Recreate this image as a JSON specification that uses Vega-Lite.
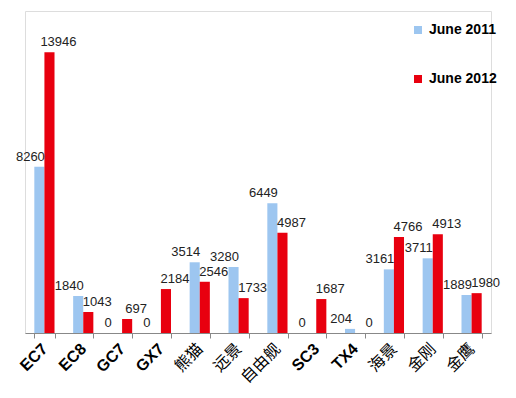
{
  "$schema": "https://vega.github.io/schema/vega-lite/v6.json",
  "width": 466,
  "height": 322,
  "autosize": {"type": "none"},
  "padding": {"left": 25, "top": 11, "right": 25, "bottom": 65},
  "background": "white",
  "data": {"values": [
    {"model": "EC7", "series": "June 2011", "sales": 8260},
    {"model": "EC7", "series": "June 2012", "sales": 13946},
    {"model": "EC8", "series": "June 2011", "sales": 1840},
    {"model": "EC8", "series": "June 2012", "sales": 1043},
    {"model": "GC7", "series": "June 2011", "sales": 0},
    {"model": "GC7", "series": "June 2012", "sales": 697},
    {"model": "GX7", "series": "June 2011", "sales": 0},
    {"model": "GX7", "series": "June 2012", "sales": 2184},
    {"model": "熊猫", "series": "June 2011", "sales": 3514},
    {"model": "熊猫", "series": "June 2012", "sales": 2546},
    {"model": "远景", "series": "June 2011", "sales": 3280},
    {"model": "远景", "series": "June 2012", "sales": 1733},
    {"model": "自由舰", "series": "June 2011", "sales": 6449},
    {"model": "自由舰", "series": "June 2012", "sales": 4987},
    {"model": "SC3", "series": "June 2011", "sales": 0},
    {"model": "SC3", "series": "June 2012", "sales": 1687},
    {"model": "TX4", "series": "June 2011", "sales": 204},
    {"model": "TX4", "series": "June 2012", "sales": 0},
    {"model": "海景", "series": "June 2011", "sales": 3161},
    {"model": "海景", "series": "June 2012", "sales": 4766},
    {"model": "金刚", "series": "June 2011", "sales": 3711},
    {"model": "金刚", "series": "June 2012", "sales": 4913},
    {"model": "金鹰", "series": "June 2011", "sales": 1889},
    {"model": "金鹰", "series": "June 2012", "sales": 1980}
  ]},
  "encoding": {
    "x": {
      "field": "model", "type": "nominal", "sort": null,
      "scale": {"paddingInner": 0.48, "paddingOuter": 0.24},
      "axis": {
        "title": null,
        "labelAngle": -45,
        "labelAlign": "right",
        "labelBaseline": "middle",
        "labelPadding": 8,
        "labelFont": "Liberation Sans, Noto Sans CJK SC",
        "labelFontSize": 16,
        "labelFontWeight": {"condition": {"test": "indexof(['熊猫','远景','自由舰','海景','金刚','金鹰'], datum.value) >= 0", "value": "normal"}, "value": "bold"},
        "labelColor": "#000000",
        "domainColor": "#888888",
        "tickColor": "#888888",
        "tickBand": "extent",
        "tickSize": 5,
        "grid": false
      }
    },
    "xOffset": {"field": "series", "type": "nominal", "scale": {"paddingInner": 0}},
    "y": {
      "field": "sales", "type": "quantitative",
      "scale": {"domain": [0, 16000], "nice": false},
      "axis": null
    }
  },
  "layer": [
    {
      "mark": {"type": "bar"},
      "encoding": {
        "color": {
          "field": "series", "type": "nominal",
          "scale": {"domain": ["June 2011", "June 2012"], "range": ["#9DC6F0", "#E8000F"]},
          "legend": {
            "title": null,
            "orient": "none",
            "legendX": 386,
            "legendY": 12,
            "symbolType": "square",
            "symbolSize": 64,
            "symbolStrokeWidth": 0,
            "rowPadding": 35,
            "labelFont": "Liberation Sans",
            "labelFontSize": 14,
            "labelFontWeight": "bold",
            "labelColor": "#000000",
            "labelOffset": 4
          }
        }
      }
    },
    {
      "transform": [{"filter": "datum.series == 'June 2011'"}],
      "mark": {"type": "text", "baseline": "bottom", "dy": -3, "dx": -9, "font": "Liberation Sans", "fontSize": 13, "color": "#222222"},
      "encoding": {
        "text": {"field": "sales", "type": "quantitative", "format": "d"}
      }
    },
    {
      "transform": [{"filter": "datum.series == 'June 2012'"}],
      "mark": {"type": "text", "baseline": "bottom", "dy": -3, "dx": 9, "font": "Liberation Sans", "fontSize": 13, "color": "#222222"},
      "encoding": {
        "text": {"field": "sales", "type": "quantitative", "format": "d"}
      }
    }
  ]
}
